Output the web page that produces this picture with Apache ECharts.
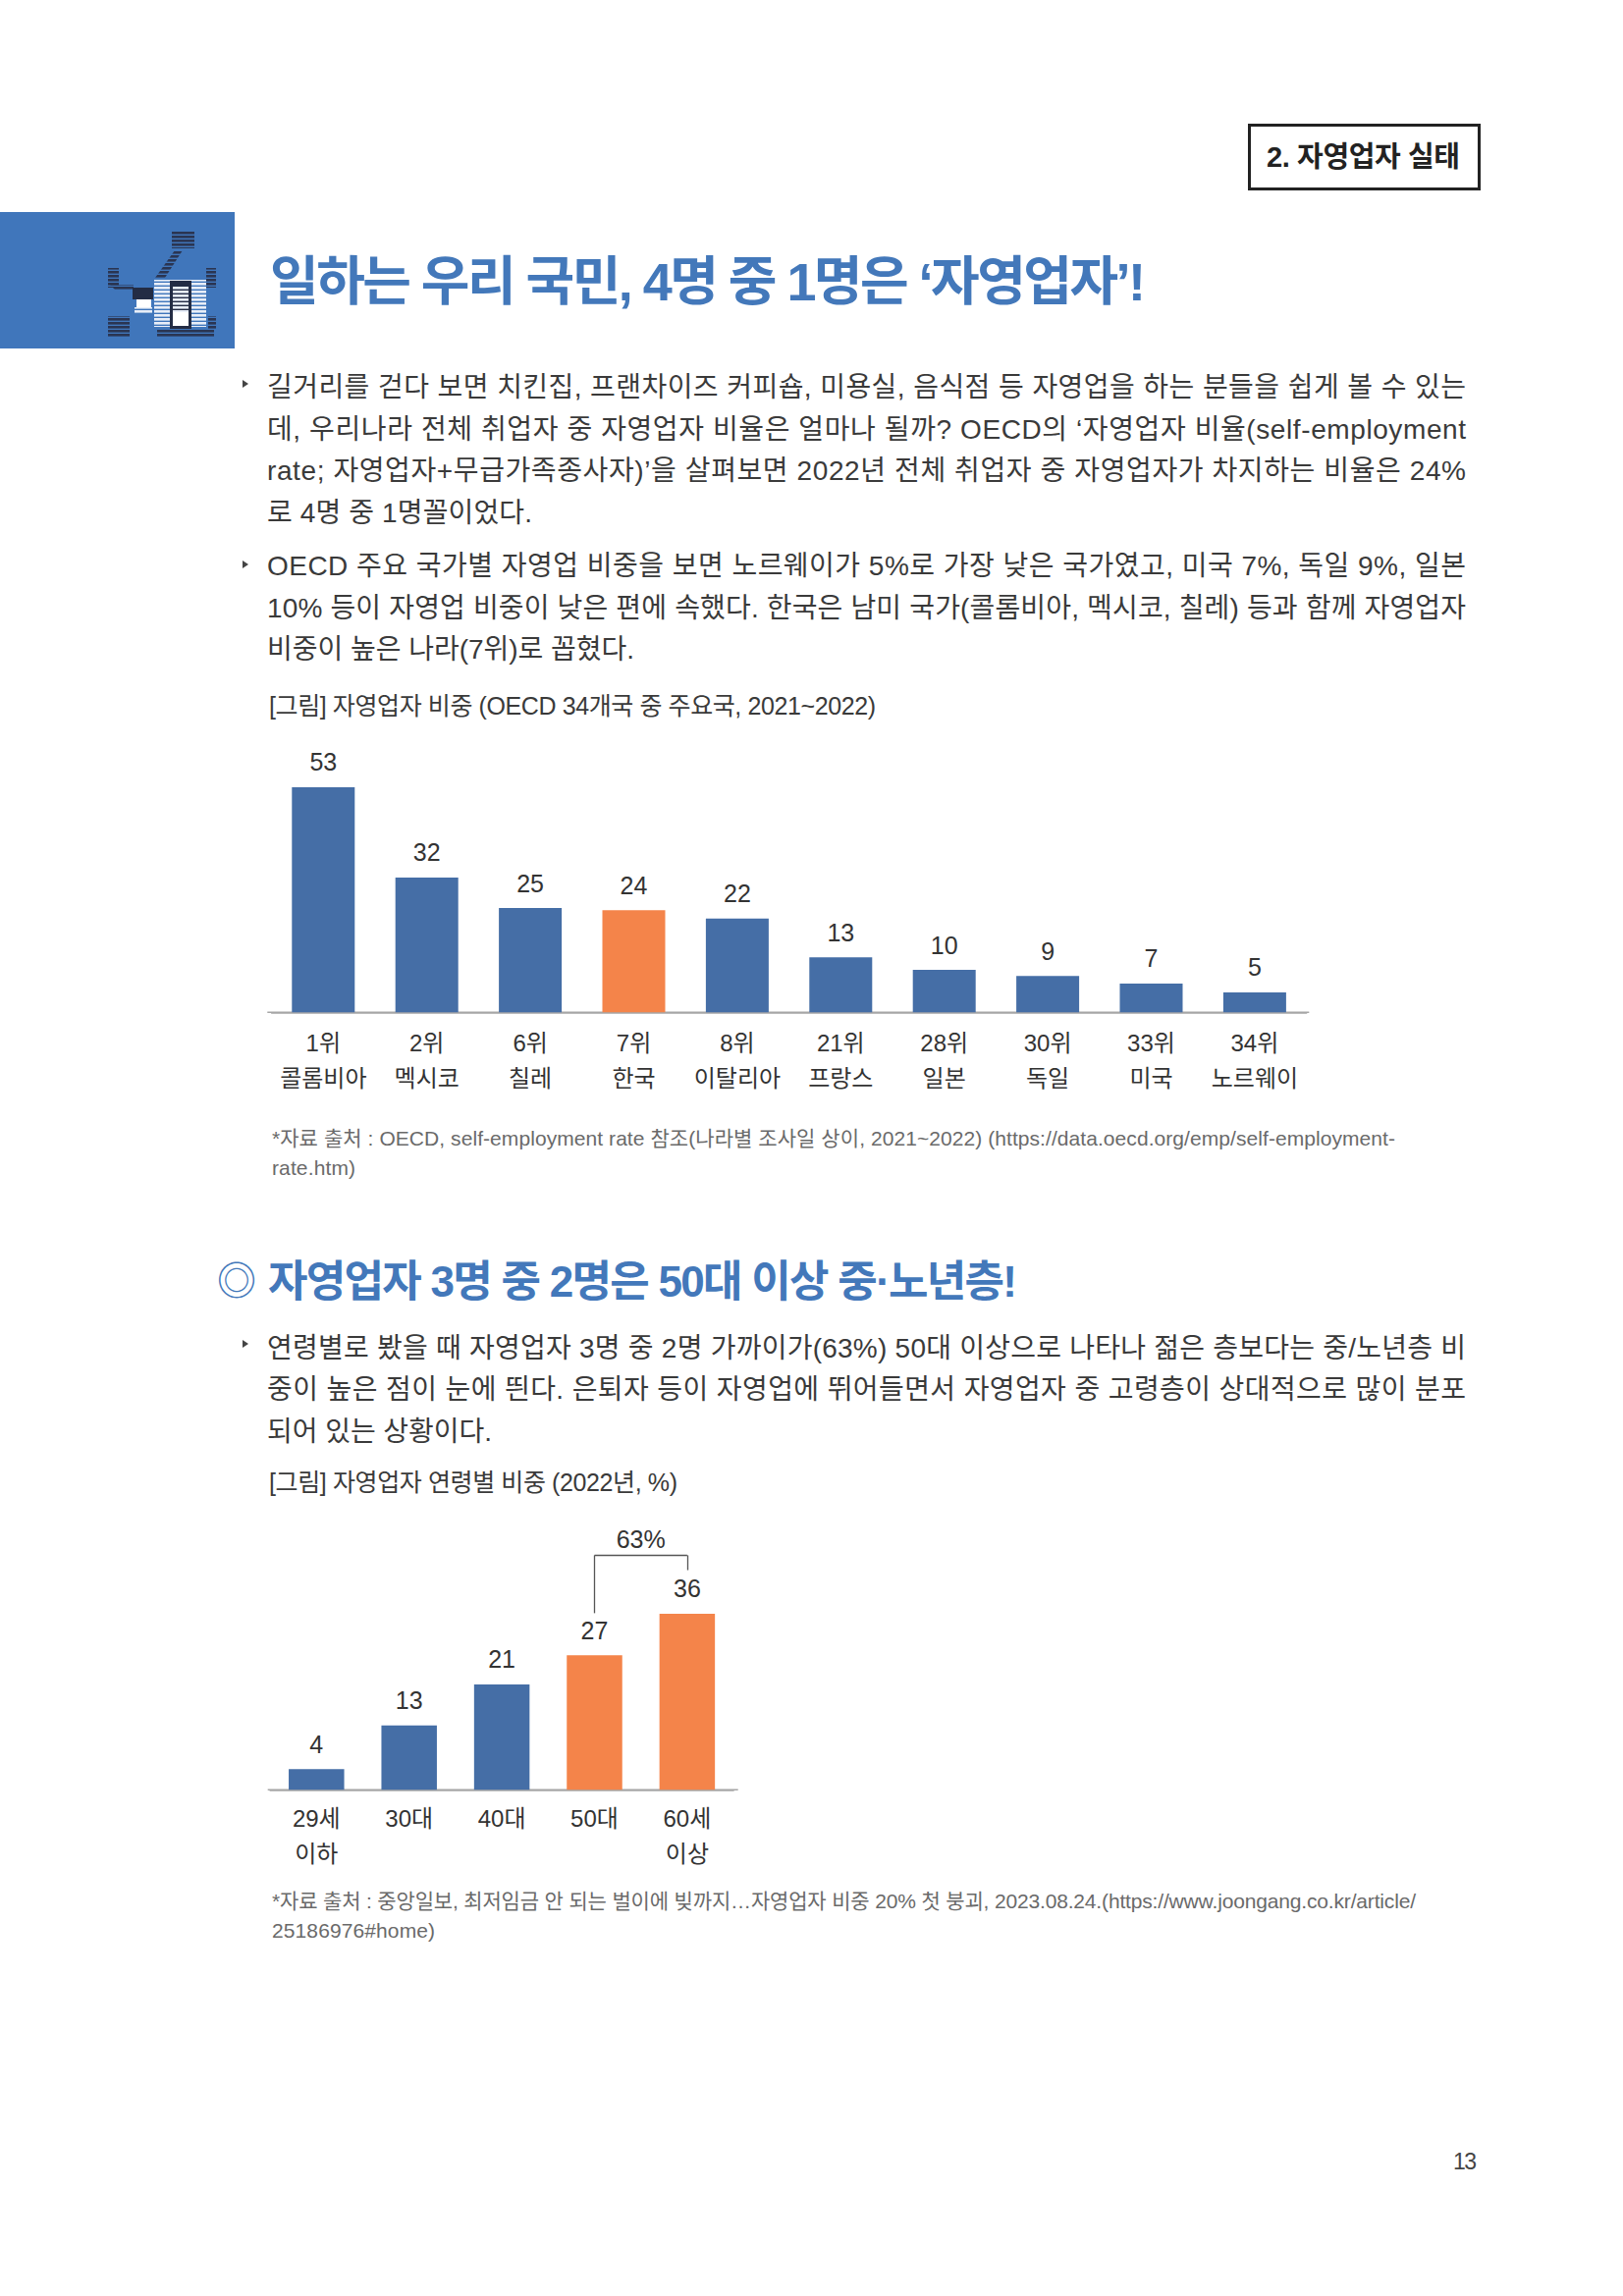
<!DOCTYPE html>
<html lang="ko">
<head>
<meta charset="utf-8">
<title>자영업자 실태</title>
<script src="https://cdn.jsdelivr.net/npm/echarts@6/dist/echarts.min.js"></script>
<style>
html,body{margin:0;padding:0;background:#fff;}
#page{position:relative;width:1653px;height:2339px;overflow:hidden;background:#fff;}
#chart{position:absolute;left:0;top:0;width:1653px;height:2339px;}
.ln{position:absolute;white-space:nowrap;line-height:1.2;transform:translateY(-50%);font-family:"Liberation Sans","Noto Sans CJK KR",sans-serif;}
#hbox{position:absolute;left:1271px;top:126px;width:231px;height:62px;border:3px solid #222;}
#blue{position:absolute;left:0;top:216px;width:239px;height:139px;background:#4076BB;}
</style>
</head>
<body>
<div id="page">
  <div id="chart"></div>
  <div id="hbox"></div>
  <div id="blue">
    <svg width="239" height="139" viewBox="0 216 239 139" style="position:absolute;left:0;top:0">
      <defs>
        <pattern id="dk" width="4" height="4" patternUnits="userSpaceOnUse">
          <rect width="4" height="2.6" fill="#2a3552"/>
        </pattern>
        <pattern id="wh" width="4" height="4" patternUnits="userSpaceOnUse">
          <rect width="4" height="2.6" fill="#e8eef8"/>
        </pattern>
      </defs>
      <rect x="175" y="235" width="23" height="18" fill="url(#dk)"/>
      <path d="M178 255 L186 255 L168 283 L158 283 Z" fill="url(#dk)"/>
      <rect x="110" y="273" width="11" height="20" fill="url(#dk)"/>
      <path d="M112 290 L136 290 L136 296 L118 296 Z" fill="url(#dk)"/>
      <rect x="210" y="273" width="10" height="20" fill="url(#dk)"/>
      <rect x="157" y="285" width="53" height="48" fill="url(#wh)"/>
      <rect x="173" y="286" width="22" height="49" fill="#232c44"/>
      <rect x="176" y="292" width="16" height="40" fill="url(#wh)"/>
      <rect x="176" y="318" width="16" height="14" fill="#fff"/>
      <rect x="135" y="293" width="21" height="12" fill="#232c44"/>
      <rect x="139" y="305" width="15" height="8" fill="#fff"/>
      <rect x="137" y="313" width="18" height="6" fill="url(#wh)"/>
      <rect x="110" y="322" width="22" height="21" fill="url(#dk)"/>
      <rect x="212" y="322" width="8" height="14" fill="url(#dk)"/>
      <rect x="160" y="335" width="58" height="8" fill="url(#dk)"/>
    </svg>
  </div>
</div>
<script>
// ---------- chart data ----------
var ranks1 = ['1위','2위','6위','7위','8위','21위','28위','30위','33위','34위'];
var countries1 = ['콜롬비아','멕시코','칠레','한국','이탈리아','프랑스','일본','독일','미국','노르웨이'];
var values1 = [53.1,31.8,24.6,24.1,22.1,13.0,10.0,8.6,6.8,4.7];
var highlight1 = ['한국'];

var ages2 = ['29세\n이하','30대','40대','50대','60세\n이상'];
var values2 = [4.2,13.0,21.3,27.2,35.6];
var highlight2 = ['50대','60세\n이상'];
var bracketLabel = '63%';
var bracketTop = 47.4, bracketLeftEnd = 35.7, bracketRightEnd = 44.4;

// ---------- page text ----------
var BODY = '#3a3a3a', BLUE = '#4378BA', SRC = '#6a6a6a';
var textLines = [
 ['2. 자영업자 실태',1290,1487,160,29,1,'#222'],
 ['일하는 우리 국민, 4명 중 1명은 ‘자영업자’!',275,1167,287,54,1,BLUE],
 ['길거리를 걷다 보면 치킨집, 프랜차이즈 커피숍, 미용실, 음식점 등 자영업을 하는 분들을 쉽게 볼 수 있는',272,1493,394.5,28,0,BODY],
 ['데, 우리나라 전체 취업자 중 자영업자 비율은 얼마나 될까? OECD의 ‘자영업자 비율(self-employment',272,1493,437.5,28,0,BODY],
 ['rate; 자영업자+무급가족종사자)’을 살펴보면 2022년 전체 취업자 중 자영업자가 차지하는 비율은 24%',272,1493,479.5,28,0,BODY],
 ['로 4명 중 1명꼴이었다.',272,542,523,28,0,BODY],
 ['OECD 주요 국가별 자영업 비중을 보면 노르웨이가 5%로 가장 낮은 국가였고, 미국 7%, 독일 9%, 일본',272,1493,576.5,28,0,BODY],
 ['10% 등이 자영업 비중이 낮은 편에 속했다. 한국은 남미 국가(콜롬비아, 멕시코, 칠레) 등과 함께 자영업자',272,1493,619.5,28,0,BODY],
 ['비중이 높은 나라(7위)로 꼽혔다.',272,646,661.5,28,0,BODY],
 ['[그림] 자영업자 비중 (OECD 34개국 중 주요국, 2021~2022)',274,892,719,25,0,BODY],
 ['*자료 출처 : OECD, self-employment rate 참조(나라별 조사일 상이, 2021~2022) (https://data.oecd.org/emp/self-employment-',277,1421,1160,21,0,SRC],
 ['rate.htm)',277,362,1190,21,0,SRC],
 ['◎',221,261,1305,40,0,BLUE],
 ['자영업자 3명 중 2명은 50대 이상 중·노년층!',273,1036,1305.5,44,1,BLUE],
 ['연령별로 봤을 때 자영업자 3명 중 2명 가까이가(63%) 50대 이상으로 나타나 젊은 층보다는 중/노년층 비',272,1493,1373.5,28,0,BODY],
 ['중이 높은 점이 눈에 띈다. 은퇴자 등이 자영업에 뛰어들면서 자영업자 중 고령층이 상대적으로 많이 분포',272,1493,1415.5,28,0,BODY],
 ['되어 있는 상황이다.',272,501,1458.5,28,0,BODY],
 ['[그림] 자영업자 연령별 비중 (2022년, %)',274,690,1510,25,0,BODY],
 ['*자료 출처 : 중앙일보, 최저임금 안 되는 벌이에 빚까지…자영업자 비중 20% 첫 붕괴, 2023.08.24.(https://www.joongang.co.kr/article/',277,1442,1937,21,0,SRC],
 ['25186976#home)',277,443,1967,21,0,SRC],
 ['13',1480,1504,2203,23,0,'#444']
];
var bullets = [392,576,1370];

// ---------- colours ----------
var barBlue = '#456EA6', barOrange = '#F4844A', inkColor = '#333333', axisGrey = '#a6a6a6';
var fontStack = '"Liberation Sans","Noto Sans CJK KR",sans-serif';

var page = document.getElementById('page');
textLines.forEach(function(l){
  var d = document.createElement('div');
  d.className = 'ln';
  d.textContent = l[0];
  d.style.left = l[1] + 'px';
  d.style.top = l[3] + 'px';
  d.style.fontSize = l[4] + 'px';
  d.style.fontWeight = l[5] ? '700' : '400';
  d.style.color = l[6];
  page.appendChild(d);
  var n = Array.from(l[0]).length;
  var w = d.getBoundingClientRect().width;
  if (n > 1) d.style.letterSpacing = ((l[2] - l[1] - w) / (n - 1)).toFixed(3) + 'px';
});
bullets.forEach(function(y){
  var d = document.createElement('div');
  d.style.cssText = 'position:absolute;left:247px;top:' + (y - 5) + 'px;width:0;height:0;border-left:6px solid #444;border-top:4.5px solid transparent;border-bottom:4.5px solid transparent;';
  page.appendChild(d);
});

function coloured(vals, names, hi){
  return vals.map(function(v, i){
    return {value: v, itemStyle: {color: hi.indexOf(names[i]) >= 0 ? barOrange : barBlue}};
  });
}
var barLabel = {show: true, position: 'top', distance: 13, fontSize: 25, color: inkColor, fontFamily: fontStack,
  formatter: function(p){ return String(Math.round(p.value)); }};
function xAxis(i, cats, margin){
  return {gridIndex: i, type: 'category', data: cats,
    axisTick: {show: false},
    axisLine: {show: true, lineStyle: {color: axisGrey, width: 1.5}},
    axisLabel: {interval: 0, fontSize: 24, color: inkColor, fontFamily: fontStack, lineHeight: 35.5, margin: margin}};
}
function yAxis(i, max){
  return {gridIndex: i, type: 'value', min: 0, max: max, show: false, splitLine: {show: false}};
}
var cats1 = ranks1.map(function(r, i){ return r + '\n' + countries1[i]; });

var chart = echarts.init(document.getElementById('chart'), null, {renderer: 'svg', width: 1653, height: 2339});
chart.setOption({
  animation: false,
  backgroundColor: 'transparent',
  textStyle: {fontFamily: fontStack},
  grid: [
    {left: 276.6, top: 772.1, width: 1054, height: 259.2},
    {left: 275.1, top: 1571.3, width: 472, height: 252}
  ],
  xAxis: [xAxis(0, cats1, 13.7), xAxis(1, ages2, 11.7)],
  yAxis: [yAxis(0, 60), yAxis(1, 50)],
  series: [
    {type: 'bar', name: '자영업자 비중', xAxisIndex: 0, yAxisIndex: 0, barWidth: 64,
     data: coloured(values1, countries1, highlight1), label: barLabel, z: 3},
    {type: 'bar', name: '자영업자 연령별 비중', xAxisIndex: 1, yAxisIndex: 1, barWidth: 56.5,
     data: coloured(values2, ages2, highlight2), label: barLabel, z: 3,
     markLine: {silent: true, symbol: 'none', animation: false,
       lineStyle: {color: '#555', width: 1.3, type: 'solid'},
       label: {show: false},
       data: [
         [{coord: [3, bracketLeftEnd]}, {coord: [3, bracketTop]}],
         [{coord: [3, bracketTop], label: {show: true, position: 'middle', formatter: bracketLabel, fontSize: 25,
            color: inkColor, fontFamily: fontStack, distance: 4}}, {coord: [4, bracketTop]}],
         [{coord: [4, bracketTop]}, {coord: [4, bracketRightEnd]}]
       ]}}
  ],
  graphic: [
    {type: 'line', z: 0, shape: {x1: 272.3, y1: 1031.3, x2: 1333.3, y2: 1031.3}, style: {stroke: axisGrey, lineWidth: 1.5}},
    {type: 'line', z: 0, shape: {x1: 272.7, y1: 1823.3, x2: 751.7, y2: 1823.3}, style: {stroke: axisGrey, lineWidth: 1.5}}
  ]
});
</script>
</body>
</html>
